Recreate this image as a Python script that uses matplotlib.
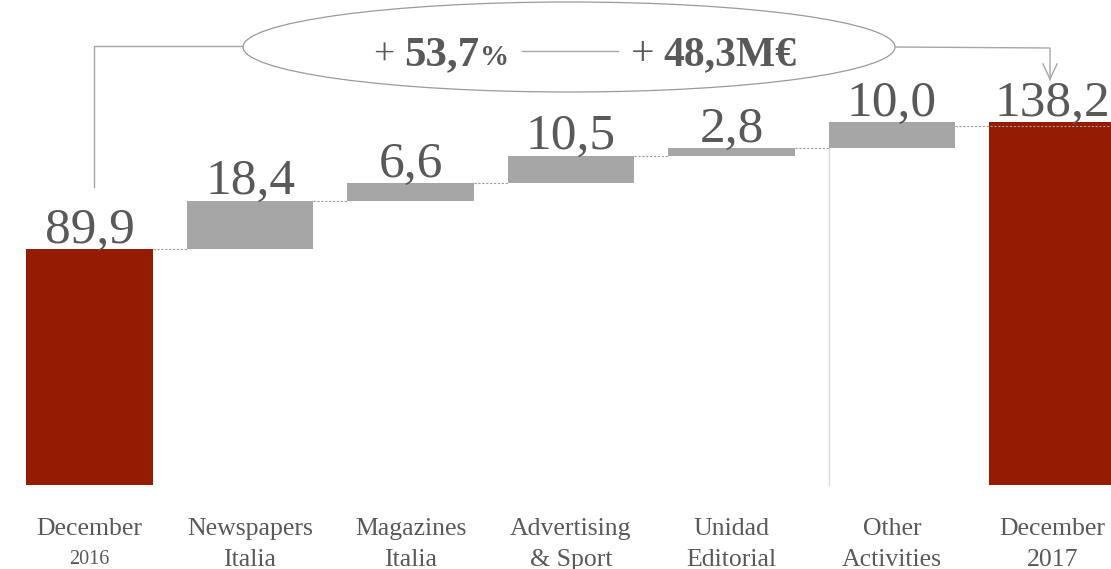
import matplotlib.pyplot as plt
from matplotlib.patches import Ellipse
import numpy as np

# Data
categories = ["December", "Newspapers", "Magazines", "Advertising", "Unidad", "Other", "December"]
second_line = ["2016", "Italia", "Italia", "& Sport", "Editorial", "Activities", "2017"]
start_value = 89.9
deltas = [18.4, 6.6, 10.5, 2.8, 10.0]
end_value = 138.2
value_labels = ["89,9", "18,4", "6,6", "10,5", "2,8", "10,0", "138,2"]

pct_text = "53,7"
abs_text = "48,3M€"

RED = "#951c03"
GREY = "#a6a6a6"
TXT = "#595959"
W, H = 1111, 569

plt.rcParams['font.family'] = ['Liberation Serif', 'DejaVu Serif']

fig = plt.figure(figsize=(W / 100, H / 100), dpi=100)
ax = fig.add_axes([0, 0, 1, 1])
step = 160.5
ax.set_xlim(-89.5 / step, (W - 89.5) / step)
ax.set_ylim(-84 / 2.625, (H - 84) / 2.625)
ax.axis('off')

def fx(px):
    return px / W

def fy(py):
    return 1 - py / H

bw = 0.79
x = np.arange(len(categories))
cum = np.concatenate([[start_value], start_value + np.cumsum(deltas)])
bottoms = np.concatenate([[0], cum[:-1], [0]])
heights = np.concatenate([[start_value], deltas, [end_value]])
colors = [RED] + [GREY] * len(deltas) + [RED]

ax.bar(x, heights, bottom=bottoms, width=bw, color=colors, zorder=2)

# dashed connectors between bars
for i, lv in enumerate(cum[:-1]):
    ax.plot([x[i] + bw / 2, x[i + 1] - bw / 2], [lv, lv], color="#9a9a9a",
            lw=0.8, ls=(0, (2, 1.5)), zorder=3)
# last delta top line runs across the final bar
ax.plot([x[5] + bw / 2, x[6] + bw / 2], [cum[-1] - 1.3, cum[-1] - 1.3], color="#9a9a9a",
        lw=0.8, ls=(0, (2, 1.5)), zorder=3)

# vertical light line under Other bar
ax.plot([x[5] - bw / 2, x[5] - bw / 2], [0, cum[4]], color="#d9d9d9", lw=1, zorder=1)

# value labels
tops = bottoms + heights
for i, lab in enumerate(value_labels):
    ax.text(x[i], tops[i] + 2.5, lab, ha='center', va='baseline', fontsize=37,
            color=TXT, zorder=4)

# category labels
for i in range(len(categories)):
    small = i == 0
    ax.text(x[i], -16.9, categories[i], ha='center', va='center', fontsize=18.5, color=TXT)
    ax.text(x[i], -28.4, second_line[i], ha='center', va='center',
            fontsize=14.5 if small else 18.5, color=TXT)

# ellipse and connectors
ell = Ellipse((fx(569), fy(47)), fx(652), 90 / H, transform=fig.transFigure,
              fill=False, edgecolor="#9a9a9a", lw=0.9)
fig.add_artist(ell)
lc = "#a6a6a6"
fig.add_artist(plt.Line2D([fx(94), fx(94), fx(243)], [fy(187), fy(46), fy(46)],
                          color=lc, lw=1))
fig.add_artist(plt.Line2D([fx(895), fx(1050), fx(1050)], [fy(47), fy(48), fy(80)],
                          color=lc, lw=1))
fig.add_artist(plt.Line2D([fx(1043), fx(1050), fx(1057)], [fy(64), fy(79), fy(64)],
                          color=lc, lw=1))
fig.add_artist(plt.Line2D([fx(522), fx(618)], [fy(51), fy(51)], color=lc, lw=1))

base = fy(65)
fig.text(fx(384), base, "+", ha='center', va='baseline', fontsize=27, color=TXT)
fig.text(fx(404), base, pct_text, ha='left', va='baseline', fontsize=31,
         fontweight='bold', color=TXT)
fig.text(fx(480), base, "%", ha='left', va='baseline', fontsize=21,
         fontweight='bold', color=TXT)
fig.text(fx(643), base, "+", ha='center', va='baseline', fontsize=30, color=TXT)
fig.text(fx(663), base, abs_text, ha='left', va='baseline', fontsize=30,
         fontweight='bold', color=TXT)

fig.savefig("out.png", dpi=100)
